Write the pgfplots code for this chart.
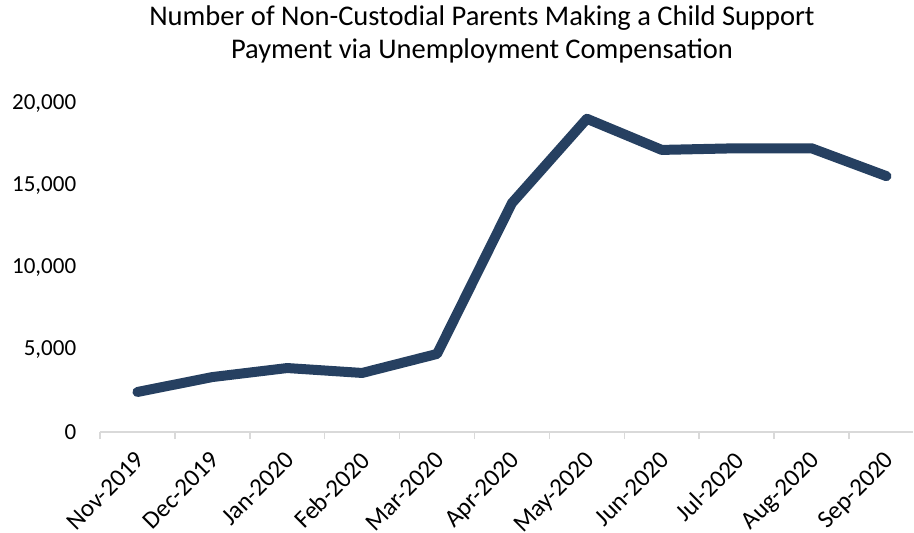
\documentclass[border=0pt]{standalone}
\usepackage{pgfplots}
\pgfplotsset{compat=1.18}
\usetikzlibrary{calc}
\usepackage{fontspec}
\setmainfont{Carlito}
\definecolor{navy}{RGB}{38,64,97}
\definecolor{axgray}{RGB}{217,217,217}
\begin{document}
\begin{tikzpicture}
\begin{axis}[
  name=ax,
  scale only axis,
  width=813pt, height=328pt,
  xmin=-0.5, xmax=10.354,
  ymin=0, ymax=20000,
  axis x line*=bottom,
  axis y line*=left,
  y axis line style={draw=none},
  x axis line style={draw=axgray, line width=1.5pt, -},
  xtick={0,...,10},
  xticklabels={Nov-2019,Dec-2019,Jan-2020,Feb-2020,Mar-2020,Apr-2020,May-2020,Jun-2020,Jul-2020,Aug-2020,Sep-2020},
  major x tick style={draw=none},
  minor xtick={-0.5,0.5,...,9.5},
  minor tick length=7pt,
  minor x tick style={draw=axgray, line width=1.5pt},
  tick align=outside,
  xticklabel style={xshift=-3pt, yshift=-11pt, rotate=45, anchor=north east, inner sep=2pt, font=\fontsize{25}{29}\selectfont},
  ytick={0,5000,10000,15000,20000},
  ytick style={draw=none},
  yticklabel style={font=\fontsize{23}{27}\selectfont, anchor=east, xshift=-16pt},
  /pgf/number format/1000 sep={,},
  /pgf/number format/assume math mode=true,
  scaled y ticks=false,
  clip=false,
]
\addplot[navy, line width=10pt, line join=round, line cap=round] coordinates {
(0,2440) (1,3350) (2,3900) (3,3600) (4,4760) (5,13960) (6,19100) (7,17200) (8,17300) (9,17300) (10,15600)
};
\end{axis}
\node[align=center, font=\fontsize{28.5}{33}\selectfont, anchor=north, inner sep=0pt] at ($(ax.north west)+(382pt,98pt)$) {Number of Non-Custodial Parents Making a Child Support\\Payment via Unemployment Compensation};
\pgfresetboundingbox
\path ($(ax.south west)+(-100pt,-101pt)$) rectangle ($(ax.north east)+(1pt,104pt)$);
\end{tikzpicture}
\end{document}
